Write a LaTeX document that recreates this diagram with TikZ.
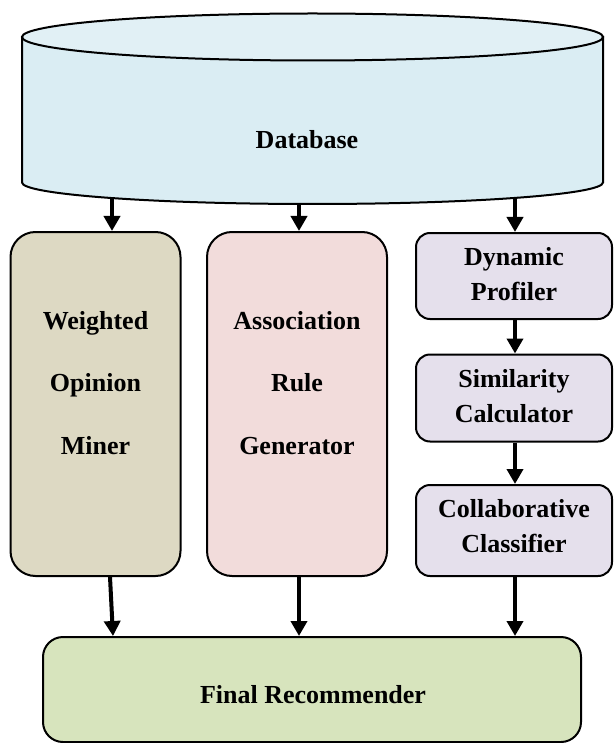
\documentclass[tikz,border=0pt]{standalone}
\usepackage{fontspec}
\setmainfont{Liberation Serif}
\usetikzlibrary{arrows.meta}
\definecolor{dbbody}{HTML}{DAEDF3}
\definecolor{dbtop}{HTML}{E1F0F5}
\definecolor{womcol}{HTML}{DDD9C3}
\definecolor{argcol}{HTML}{F2DCDB}
\definecolor{rightcol}{HTML}{E5E0EC}
\definecolor{finalcol}{HTML}{D7E4BD}
\tikzset{
  bigbox/.style={draw, line width=2pt, rounded corners=25pt, inner sep=0pt},
  smallbox/.style={draw, line width=2pt, rounded corners=14pt, inner sep=0pt},
  lbl/.style={anchor=base, inner sep=0pt, font=\fontsize{26}{30}\selectfont\bfseries},
  flow/.style={line width=4pt, -{Triangle[width=16pt,length=15pt]}},
}
\begin{document}
\begin{tikzpicture}[x=1pt, y=-1pt]
\useasboundingbox (0,0) rectangle (613,743);
% database cylinder
\draw[line width=2pt, fill=dbbody] (22,37) -- (22,182.5)
  arc[start angle=180, end angle=0, x radius=290.5, y radius=21.5] -- (603,37) -- cycle;
\draw[line width=2pt, fill=dbtop] (312.5,37) ellipse [x radius=290.5, y radius=23.5];
\node[lbl] (db) at (307,149) {Database};
\coordinate (db1) at (112,197);
\coordinate (db2) at (299,203);
\coordinate (db3) at (515,197);
% boxes
\node[bigbox, fill=womcol, minimum width=170pt, minimum height=344pt] (wom) at (95.5,404) {};
\node[bigbox, fill=argcol, minimum width=180pt, minimum height=344pt] (arg) at (297,404) {};
\node[smallbox, fill=rightcol, minimum width=196pt, minimum height=86pt] (dp) at (514,276) {};
\node[smallbox, fill=rightcol, minimum width=196pt, minimum height=87pt] (sc) at (514,398) {};
\node[smallbox, fill=rightcol, minimum width=196pt, minimum height=91pt] (cc) at (514,530.5) {};
\node[bigbox, rounded corners=20pt, fill=finalcol, minimum width=538pt, minimum height=105pt] (fr) at (312,689.5) {};
% texts
\node[lbl] (w1) at (95.5,329) {Weighted};
\node[lbl] (w2) at (95.5,391.5) {Opinion};
\node[lbl] (w3) at (95.5,454) {Miner};
\node[lbl] (a1) at (297,329) {Association};
\node[lbl] (a2) at (297,391.5) {Rule};
\node[lbl] (a3) at (297,454) {Generator};
\node[lbl] (d1) at (514,265) {Dynamic};
\node[lbl] (d2) at (514,300) {Profiler};
\node[lbl] (s1) at (514,387) {Similarity};
\node[lbl] (s2) at (514,422) {Calculator};
\node[lbl] (c1) at (514,517) {Collaborative};
\node[lbl] (c2) at (514,552) {Classifier};
\node[lbl] (f1) at (313,703) {Final Recommender};
% arrows
\draw[flow] (db1) -- (wom.north -| db1);
\draw[flow] (db2) -- (arg.north -| db2);
\draw[flow] (db3) -- (dp.north -| db3);
\draw[flow] (dp.south -| db3) -- (sc.north -| db3);
\draw[flow] (sc.south -| db3) -- (cc.north -| db3);
\coordinate (o1) at (110,0);
\coordinate (i1) at (113,0);
\draw[flow] (wom.south -| o1) -- (fr.north -| i1);
\draw[flow] (arg.south -| db2) -- (fr.north -| db2);
\draw[flow] (cc.south -| db3) -- (fr.north -| db3);
\end{tikzpicture}
\end{document}
